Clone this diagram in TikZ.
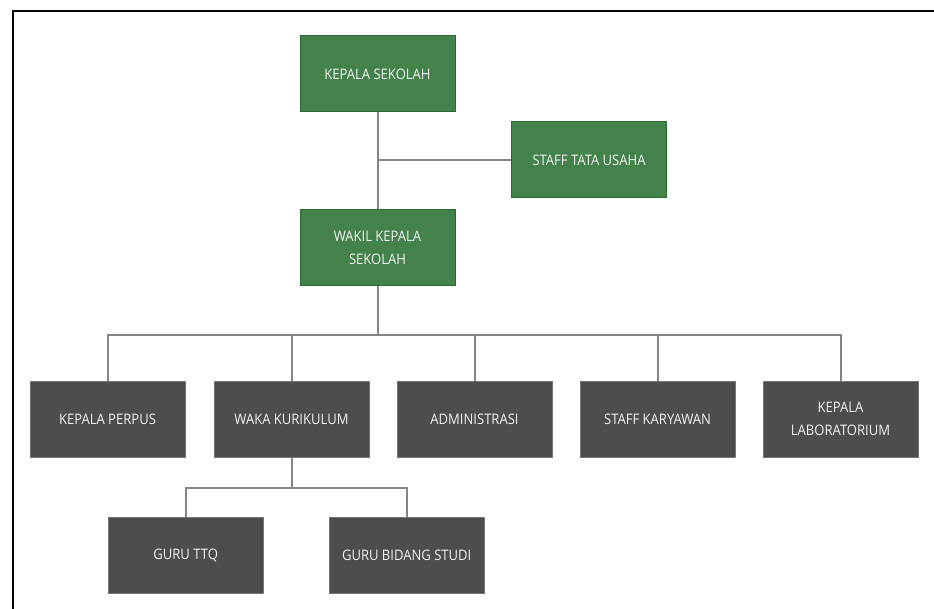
\documentclass[tikz,border=0pt]{standalone}
\usepackage{fontspec}
\setmainfont[FakeStretch=0.9]{Open Sans}
\usetikzlibrary{positioning}
\definecolor{boxGreen}{HTML}{43834B}
\definecolor{edgeGreen}{HTML}{2D6A33}
\definecolor{boxGray}{HTML}{4D4D4D}
\definecolor{edgeGray}{HTML}{747474}
\definecolor{linkGray}{HTML}{858585}
\definecolor{labelWhite}{HTML}{F2F2F2}
\begin{document}
\begin{tikzpicture}[x=1pt, y=-1pt,
    unit/.style={minimum width=155pt, minimum height=76pt, inner sep=0pt, align=center, text=labelWhite, font=\fontsize{14.5}{22.5}\selectfont, line width=1pt},
    greenbox/.style={unit, draw=edgeGreen, fill=boxGreen},
    graybox/.style={unit, draw=edgeGray, fill=boxGray},
    link/.style={draw=linkGray, line width=2pt}
  ]
    \useasboundingbox (0,0) rectangle (934,609);
    \draw[line width=2pt] (12.7,609) -- (12.7,11.5) -- (934,11.5);
    % pimpinan
    \node[greenbox] (kepsek) at (377.5,74) {KEPALA SEKOLAH};
    \node[greenbox, below=97pt of kepsek] (wakil) {WAKIL KEPALA\\SEKOLAH};
    \node[greenbox] (tu) at (589,160) {STAFF TATA USAHA};
    % baris kedua
    \node[graybox] (waka) at (291.5,419) {WAKA KURIKULUM};
    \node[graybox, left=28pt of waka] (perpus) {KEPALA PERPUS};
    \node[graybox, right=27pt of waka] (admin) {ADMINISTRASI};
    \node[graybox, right=27pt of admin] (karyawan) {STAFF KARYAWAN};
    \node[graybox, right=27pt of karyawan] (lab) {KEPALA\\LABORATORIUM};
    % guru
    \node[graybox] (ttq) at (185.7,555) {GURU TTQ};
    \node[graybox] (bidang) at (406.7,555) {GURU BIDANG STUDI};
    % garis
    \draw[link] (kepsek) -- (wakil);
    \draw[link] (tu.west) -- (tu.west -| kepsek);
    \foreach \n in {perpus,waka,admin,karyawan,lab}
      \draw[link] (wakil.south) -- ++(0,49) -| (\n.north);
    \foreach \n in {ttq,bidang}
      \draw[link] (waka.south) -- ++(0,30) -| (\n.north);
  \end{tikzpicture}
\end{document}
